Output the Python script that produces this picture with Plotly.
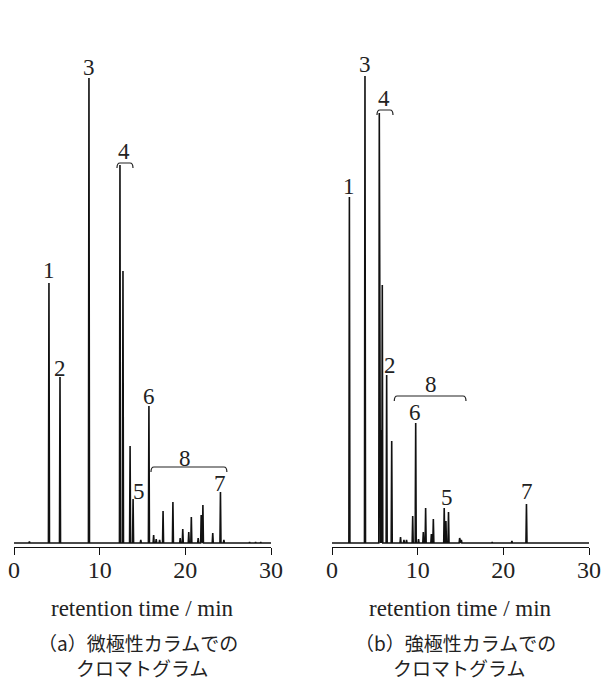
import plotly.graph_objects as go

# ---------------- data ----------------
# (a) weakly polar column: retention times (min) and peak heights (arb.)
a_times = [1.8, 4.08, 5.37, 8.75, 12.37, 12.72, 13.55, 13.9, 14.8, 15.75, 16.3, 16.6, 17.0,
           17.4, 18.55, 19.4, 19.7, 20.4, 20.7, 21.5, 21.85, 22.05, 23.2, 24.1, 24.5,
           27.5, 28.2, 28.8]
a_heights = [1.5, 260, 166, 465, 378, 272, 97, 44, 3, 137, 8, 4, 3,
             32, 41, 5, 14, 11, 26, 5, 28, 38, 10, 51, 3,
             1, 1, 1]

# (b) strongly polar column
b_times = [2.03, 3.85, 5.52, 5.72, 5.87, 6.38, 6.97, 8.0, 8.4, 8.7, 9.42, 9.77, 10.1,
           10.66, 10.93, 11.6, 11.83, 13.1, 13.3, 13.6, 14.9, 15.1, 18.7, 21.0, 22.7]
b_heights = [346, 467, 430, 113, 258, 168, 102, 6, 3, 3, 27, 120, 4,
             11, 35, 9, 24, 35, 22, 31, 5, 3, 1, 2, 39]

# peak labels: (text, time, label level)
a_labels = [("1", 4.08, 273), ("2", 5.37, 175), ("3", 8.75, 476), ("4", 12.84, 392),
            ("5", 14.59, 52), ("6", 15.75, 147), ("8", 19.95, 85), ("7", 24.04, 60)]
b_labels = [("1", 1.98, 357), ("3", 3.85, 479), ("4", 6.07, 445), ("2", 6.77, 178),
            ("8", 11.52, 159), ("6", 9.65, 131), ("5", 13.38, 46), ("7", 22.72, 52)]

# group braces: (start, end, level)
a_braces = [(12.02, 13.89, 380), (15.99, 24.85, 76)]
b_braces = [(5.25, 7.12, 433), (7.27, 15.64, 147)]

x_ticks = [0, 10, 20, 30]
axis_title = "retention time / min"
captions = [("（a）微極性カラムでの", "クロマトグラム"), ("（b）強極性カラムでの", "クロマトグラム")]

# ---------------- helpers ----------------
HALF_W = 0.06
SERIF = "Liberation Serif, Times New Roman, serif"


def trace_xy(times, heights):
    pts = sorted(zip(times, heights))
    xs, ys = [0.0], [0.0]
    for t, h in pts:
        xs += [t - HALF_W, t, t + HALF_W]
        ys += [0.0, h, 0.0]
    xs.append(30.0)
    ys.append(0.0)
    return xs, ys


W, H = 601, 684
PLOT_TOP, PLOT_BOT = 50, 547
PH = PLOT_BOT - PLOT_TOP


def py(pix):
    return (PLOT_BOT - pix) / PH


fig = go.Figure()
for i, (times, heights) in enumerate([(a_times, a_heights), (b_times, b_heights)]):
    xs, ys = trace_xy(times, heights)
    fig.add_trace(go.Scatter(x=xs, y=ys, mode="lines",
                             line=dict(color="#111111", width=1.6),
                             xaxis="x" if i == 0 else "x2",
                             yaxis="y" if i == 0 else "y2",
                             hoverinfo="skip", showlegend=False))

annotations = []
shapes = []
for i, (labels, braces) in enumerate([(a_labels, a_braces), (b_labels, b_braces)]):
    xr = "x" if i == 0 else "x2"
    yr = "y" if i == 0 else "y2"
    for txt, t, h in labels:
        annotations.append(dict(text=txt, x=t, y=h, xref=xr, yref=yr, showarrow=False,
                                xanchor="center", yanchor="middle",
                                font=dict(family=SERIF, size=23, color="#222222")))
    for s, e, lv in braces:
        r = min(0.35, (e - s) / 5)
        d = 5
        path = (f"M {s},{lv - d} Q {s},{lv} {s + r},{lv} L {e - r},{lv} "
                f"Q {e},{lv} {e},{lv - d}")
        shapes.append(dict(type="path", path=path, xref=xr, yref=yr,
                           line=dict(color="#222222", width=1.2)))

centers = [(14 + 271) / 2 / W, (332 + 589) / 2 / W]
for i, c in enumerate(centers):
    annotations.append(dict(text=axis_title, x=c, y=py(608), xref="paper", yref="paper",
                            showarrow=False, xanchor="center", yanchor="middle",
                            font=dict(family=SERIF, size=23, color="#222222")))
    cap = captions[i][0] + "<br>\u3000\u3000" + captions[i][1]
    annotations.append(dict(text=cap, x=c - 106 / W, y=py(682), xref="paper", yref="paper",
                            showarrow=False, xanchor="left", yanchor="bottom", align="left",
                            borderpad=0,
                            font=dict(family="Noto Sans CJK JP", size=19, color="#222222")))

xaxis_common = dict(range=[0, 30], tickvals=x_ticks, ticktext=[str(v) for v in x_ticks],
                    ticks="outside", ticklen=7, tickwidth=1.3, tickcolor="#111111",
                    showline=True, linecolor="#111111", linewidth=1.3, showgrid=False,
                    zeroline=False, fixedrange=True, automargin=False,
                    ticklabelstandoff=-6,
                    tickfont=dict(family=SERIF, size=24, color="#222222"))
yaxis_common = dict(range=[-4, PH - 4], visible=False, showgrid=False, zeroline=False,
                    fixedrange=True, automargin=False)

fig.update_layout(
    width=W, height=H,
    margin=dict(l=0, r=0, t=PLOT_TOP, b=H - PLOT_BOT, autoexpand=False),
    paper_bgcolor="white", plot_bgcolor="white",
    xaxis=dict(domain=[14 / W, 271 / W], anchor="y", **xaxis_common),
    xaxis2=dict(domain=[332 / W, 589 / W], anchor="y2", **xaxis_common),
    yaxis=dict(domain=[0, 1], anchor="x", **yaxis_common),
    yaxis2=dict(domain=[0, 1], anchor="x2", **yaxis_common),
    annotations=annotations, shapes=shapes,
    showlegend=False,
)

fig.write_html("out.html")
